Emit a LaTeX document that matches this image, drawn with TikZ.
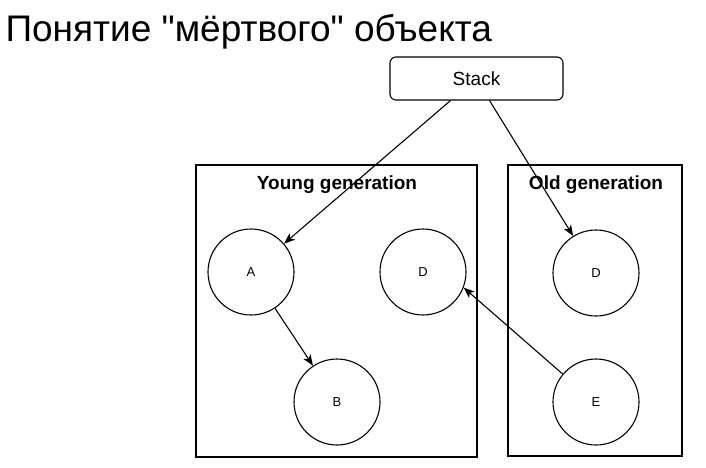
\documentclass[tikz,border=0pt]{standalone}
\usepackage{fontspec}
\setmainfont{Liberation Sans}[Ligatures=TeXOff]
\usetikzlibrary{arrows.meta,calc}
\begin{document}
\begin{tikzpicture}[x=1pt,y=-1pt,line width=1.1pt,
  obj/.style={circle,draw,minimum size=86pt,inner sep=0pt,font=\fontsize{13}{15}\selectfont},
  genbox/.style={draw,inner sep=0pt},
  genlabel/.style={anchor=base,font=\bfseries\fontsize{19}{22}\selectfont},
  arr/.style={-{Stealth[length=11pt,width=8.5pt,inset=3pt]}}]
\useasboundingbox (0,0) rectangle (706,467);
\fill[white] (0,0) rectangle (706,467);
\node[anchor=base west,inner sep=0pt,font=\fontsize{37}{44}\selectfont] (title) at (5,41) {Понятие "мёртвого" объекта};
\node[draw,rounded corners=6pt,minimum width=173pt,minimum height=43pt,inner sep=0pt,font=\fontsize{19}{22}\selectfont] (stack) at (476.5,78.5) {Stack};
\node[genbox,minimum width=281pt,minimum height=292pt] (young) at (336.5,311) {};
\node[genbox,minimum width=174pt,minimum height=291pt] (old) at (595,310.5) {};
\node[genlabel] (ylab) at (337,189.5) {Young generation};
\node[genlabel] (olab) at (596,189.5) {Old generation};
\node[obj] (A) at (251,272) {A};
\node[obj] (Dy) at (423,272) {D};
\node[obj] (B) at (337,402) {B};
\node[obj] (Do) at (596,273) {D};
\node[obj] (E) at (596,402) {E};
\coordinate (s1) at ($(stack.south)+(-26,0)$);
\coordinate (s2) at ($(stack.south)+(13,0)$);
\draw[arr] (s1) -- (A);
\draw[arr] (s2) -- (Do);
\draw[arr] (A) -- (B);
\draw[arr] (E.140) -- (Dy.-21);
\end{tikzpicture}
\end{document}
